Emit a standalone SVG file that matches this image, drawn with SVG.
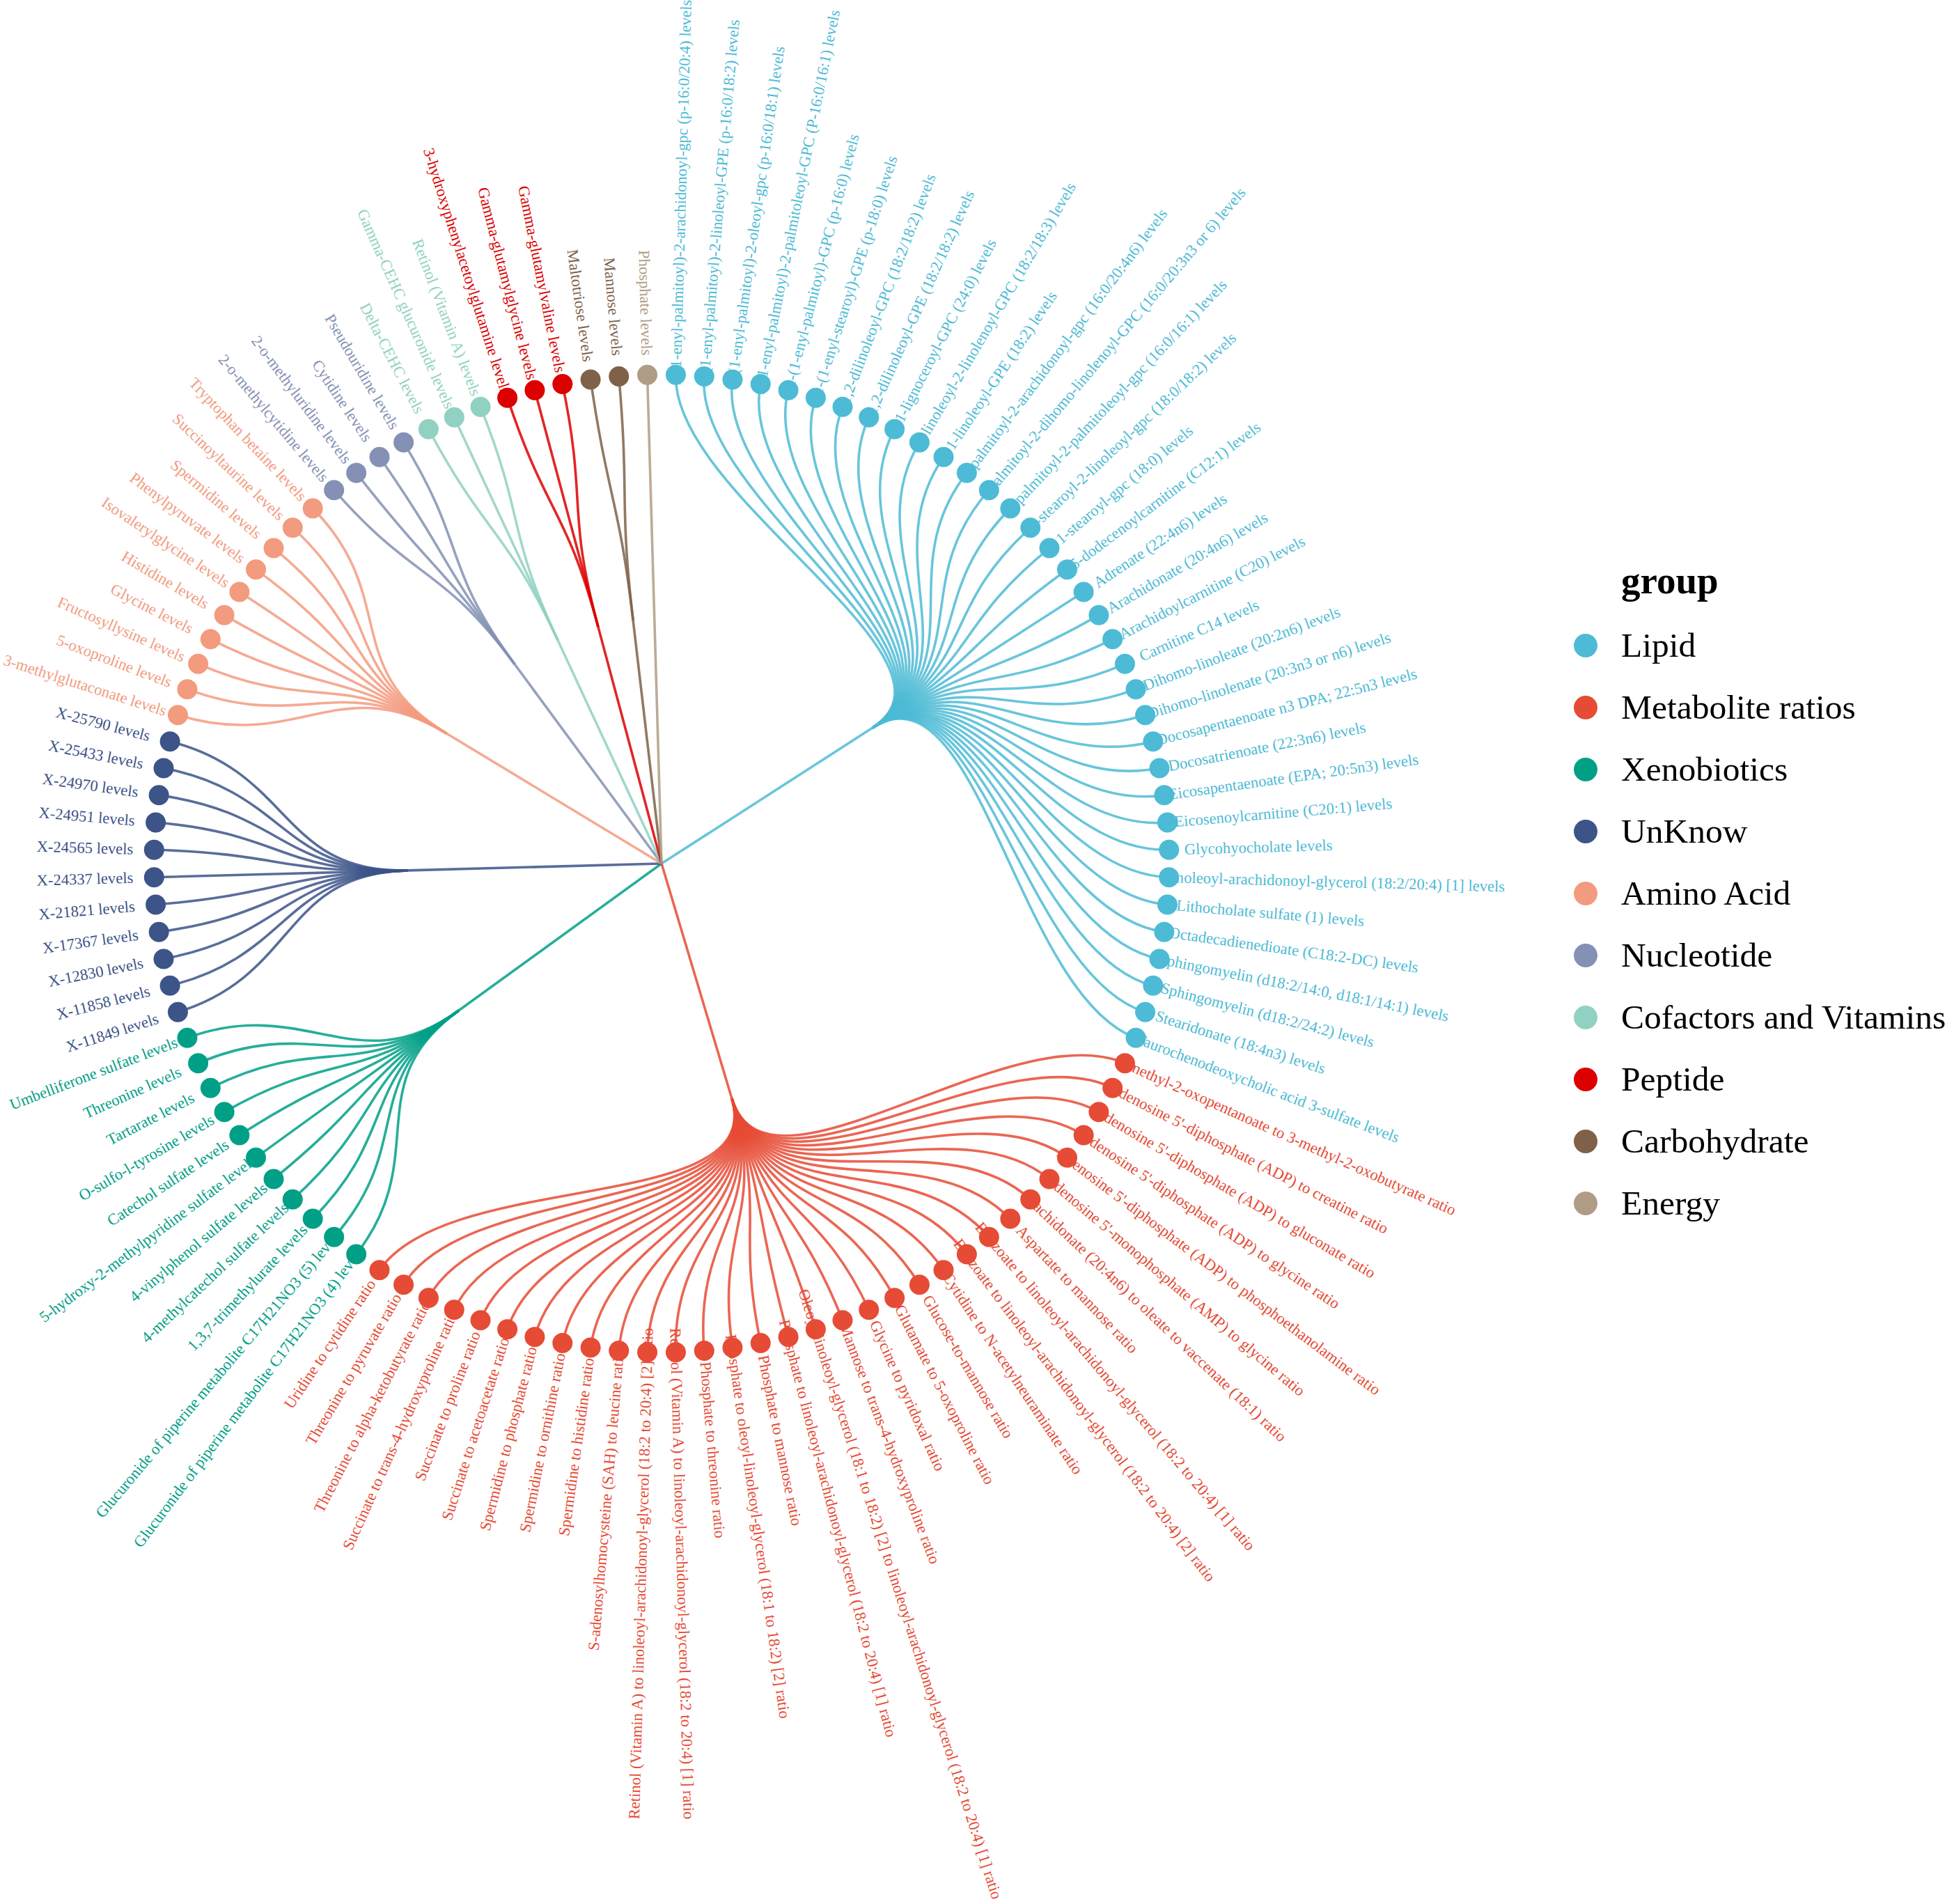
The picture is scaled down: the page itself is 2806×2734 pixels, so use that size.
<svg xmlns="http://www.w3.org/2000/svg" width="2806" height="2734" viewBox="0 0 2806 2734">
<style>
text{font-family:"Liberation Serif","Times New Roman",serif}
.lb{font-size:22.6px}
.fl{text-anchor:end}
.lip{fill:#4DBBD5;stroke:#4DBBD5}
.met{fill:#E64B35;stroke:#E64B35}
.xen{fill:#00A087;stroke:#00A087}
.unk{fill:#3C5488;stroke:#3C5488}
.ami{fill:#F39B7F;stroke:#F39B7F}
.nuc{fill:#8491B4;stroke:#8491B4}
.cof{fill:#91D1C2;stroke:#91D1C2}
.pep{fill:#DC0000;stroke:#DC0000}
.car{fill:#7E6148;stroke:#7E6148}
.ene{fill:#B09C85;stroke:#B09C85}
#connectors path{fill:none;stroke-width:3.6;stroke-opacity:0.85}
.leaf text{stroke:none}
.leaf circle{stroke:none}
.lg{font-size:49.5px;fill:#000}
.lt{font-size:55px;font-weight:bold;fill:#000}
</style>
<rect width="2806" height="2734" fill="#fff"/>
<g id="connectors">
<g class="lip">
<path d="M950 1240L1253.07 1044.99"/>
<path d="M1253.07 1044.99C1404.61 947.49 965.34 713.71 970.45 538.27"/>
<path d="M1253.07 1044.99C1404.61 947.49 995.95 715.36 1011.27 540.49"/>
<path d="M1253.07 1044.99C1404.61 947.49 1026.43 718.67 1051.91 544.89"/>
<path d="M1253.07 1044.99C1404.61 947.49 1056.67 723.61 1092.22 551.49"/>
<path d="M1253.07 1044.99C1404.61 947.49 1086.57 730.19 1132.09 560.25"/>
<path d="M1253.07 1044.99C1404.61 947.49 1116.04 738.36 1171.38 571.15"/>
<path d="M1253.07 1044.99C1404.61 947.49 1144.98 748.12 1209.98 584.16"/>
<path d="M1253.07 1044.99C1404.61 947.49 1173.31 759.42 1247.75 599.23"/>
<path d="M1253.07 1044.99C1404.61 947.49 1200.95 772.23 1284.60 616.31"/>
<path d="M1253.07 1044.99C1404.61 947.49 1227.79 786.52 1320.39 635.36"/>
<path d="M1253.07 1044.99C1404.61 947.49 1253.76 802.23 1355.01 656.31"/>
<path d="M1253.07 1044.99C1404.61 947.49 1278.77 819.32 1388.36 679.09"/>
<path d="M1253.07 1044.99C1404.61 947.49 1302.75 837.73 1420.33 703.64"/>
<path d="M1253.07 1044.99C1404.61 947.49 1325.62 857.41 1450.82 729.88"/>
<path d="M1253.07 1044.99C1404.61 947.49 1347.30 878.29 1479.74 757.73"/>
<path d="M1253.07 1044.99C1404.61 947.49 1367.74 900.32 1506.99 787.09"/>
<path d="M1253.07 1044.99C1404.61 947.49 1386.86 923.40 1532.48 817.87"/>
<path d="M1253.07 1044.99C1404.61 947.49 1404.61 947.49 1556.14 849.99"/>
<path d="M1253.07 1044.99C1404.61 947.49 1420.92 972.50 1577.89 883.33"/>
<path d="M1253.07 1044.99C1404.61 947.49 1435.76 998.35 1597.68 917.80"/>
<path d="M1253.07 1044.99C1404.61 947.49 1449.06 1024.96 1615.42 953.28"/>
<path d="M1253.07 1044.99C1404.61 947.49 1460.80 1052.24 1631.07 989.65"/>
<path d="M1253.07 1044.99C1404.61 947.49 1470.93 1080.11 1644.58 1026.82"/>
<path d="M1253.07 1044.99C1404.61 947.49 1479.42 1108.49 1655.89 1064.65"/>
<path d="M1253.07 1044.99C1404.61 947.49 1486.25 1137.29 1665.00 1103.05"/>
<path d="M1253.07 1044.99C1404.61 947.49 1491.38 1166.40 1671.84 1141.87"/>
<path d="M1253.07 1044.99C1404.61 947.49 1494.81 1195.75 1676.42 1181.00"/>
<path d="M1253.07 1044.99C1404.61 947.49 1496.54 1225.23 1678.72 1220.31"/>
<path d="M1253.07 1044.99C1404.61 947.49 1496.54 1254.77 1678.72 1259.69"/>
<path d="M1253.07 1044.99C1404.61 947.49 1494.81 1284.25 1676.42 1299.00"/>
<path d="M1253.07 1044.99C1404.61 947.49 1491.38 1313.60 1671.84 1338.13"/>
<path d="M1253.07 1044.99C1404.61 947.49 1486.25 1342.71 1665.00 1376.95"/>
<path d="M1253.07 1044.99C1404.61 947.49 1479.42 1371.51 1655.89 1415.35"/>
<path d="M1253.07 1044.99C1404.61 947.49 1470.93 1399.89 1644.58 1453.18"/>
<path d="M1253.07 1044.99C1404.61 947.49 1460.80 1427.76 1631.07 1490.35"/>
</g>
<g class="met">
<path d="M950 1240L1050.91 1577.28"/>
<path d="M1050.91 1577.28C1101.36 1745.92 1449.06 1455.04 1615.42 1526.72"/>
<path d="M1050.91 1577.28C1101.36 1745.92 1435.76 1481.65 1597.68 1562.20"/>
<path d="M1050.91 1577.28C1101.36 1745.92 1420.92 1507.50 1577.89 1596.67"/>
<path d="M1050.91 1577.28C1101.36 1745.92 1404.61 1532.51 1556.14 1630.01"/>
<path d="M1050.91 1577.28C1101.36 1745.92 1386.86 1556.60 1532.48 1662.13"/>
<path d="M1050.91 1577.28C1101.36 1745.92 1367.74 1579.68 1506.99 1692.91"/>
<path d="M1050.91 1577.28C1101.36 1745.92 1347.30 1601.71 1479.74 1722.27"/>
<path d="M1050.91 1577.28C1101.36 1745.92 1325.62 1622.59 1450.82 1750.12"/>
<path d="M1050.91 1577.28C1101.36 1745.92 1302.75 1642.27 1420.33 1776.36"/>
<path d="M1050.91 1577.28C1101.36 1745.92 1278.77 1660.68 1388.36 1800.91"/>
<path d="M1050.91 1577.28C1101.36 1745.92 1253.76 1677.77 1355.01 1823.69"/>
<path d="M1050.91 1577.28C1101.36 1745.92 1227.79 1693.48 1320.39 1844.64"/>
<path d="M1050.91 1577.28C1101.36 1745.92 1200.95 1707.77 1284.60 1863.69"/>
<path d="M1050.91 1577.28C1101.36 1745.92 1173.31 1720.58 1247.75 1880.77"/>
<path d="M1050.91 1577.28C1101.36 1745.92 1144.98 1731.88 1209.98 1895.84"/>
<path d="M1050.91 1577.28C1101.36 1745.92 1116.04 1741.64 1171.38 1908.85"/>
<path d="M1050.91 1577.28C1101.36 1745.92 1086.57 1749.81 1132.09 1919.75"/>
<path d="M1050.91 1577.28C1101.36 1745.92 1056.67 1756.39 1092.22 1928.51"/>
<path d="M1050.91 1577.28C1101.36 1745.92 1026.43 1761.33 1051.91 1935.11"/>
<path d="M1050.91 1577.28C1101.36 1745.92 995.95 1764.64 1011.27 1939.51"/>
<path d="M1050.91 1577.28C1101.36 1745.92 965.34 1766.29 970.45 1941.73"/>
<path d="M1050.91 1577.28C1101.36 1745.92 934.66 1766.29 929.55 1941.73"/>
<path d="M1050.91 1577.28C1101.36 1745.92 904.05 1764.64 888.73 1939.51"/>
<path d="M1050.91 1577.28C1101.36 1745.92 873.57 1761.33 848.09 1935.11"/>
<path d="M1050.91 1577.28C1101.36 1745.92 843.33 1756.39 807.78 1928.51"/>
<path d="M1050.91 1577.28C1101.36 1745.92 813.43 1749.81 767.91 1919.75"/>
<path d="M1050.91 1577.28C1101.36 1745.92 783.96 1741.64 728.62 1908.85"/>
<path d="M1050.91 1577.28C1101.36 1745.92 755.02 1731.88 690.02 1895.84"/>
<path d="M1050.91 1577.28C1101.36 1745.92 726.69 1720.58 652.25 1880.77"/>
<path d="M1050.91 1577.28C1101.36 1745.92 699.05 1707.77 615.40 1863.69"/>
<path d="M1050.91 1577.28C1101.36 1745.92 672.21 1693.48 579.61 1844.64"/>
<path d="M1050.91 1577.28C1101.36 1745.92 646.24 1677.77 544.99 1823.69"/>
</g>
<g class="xen">
<path d="M950 1240L658.76 1451.06"/>
<path d="M658.76 1451.06C513.14 1556.60 621.23 1660.68 511.64 1800.91"/>
<path d="M658.76 1451.06C513.14 1556.60 597.25 1642.27 479.67 1776.36"/>
<path d="M658.76 1451.06C513.14 1556.60 574.38 1622.59 449.18 1750.12"/>
<path d="M658.76 1451.06C513.14 1556.60 552.70 1601.71 420.26 1722.27"/>
<path d="M658.76 1451.06C513.14 1556.60 532.26 1579.68 393.01 1692.91"/>
<path d="M658.76 1451.06C513.14 1556.60 513.14 1556.60 367.52 1662.13"/>
<path d="M658.76 1451.06C513.14 1556.60 495.39 1532.51 343.86 1630.01"/>
<path d="M658.76 1451.06C513.14 1556.60 479.08 1507.50 322.11 1596.67"/>
<path d="M658.76 1451.06C513.14 1556.60 464.24 1481.65 302.32 1562.20"/>
<path d="M658.76 1451.06C513.14 1556.60 450.94 1455.04 284.58 1526.72"/>
<path d="M658.76 1451.06C513.14 1556.60 439.20 1427.76 268.93 1490.35"/>
</g>
<g class="unk">
<path d="M950 1240L585.64 1249.85"/>
<path d="M585.64 1249.85C403.46 1254.77 429.07 1399.89 255.42 1453.18"/>
<path d="M585.64 1249.85C403.46 1254.77 420.58 1371.51 244.11 1415.35"/>
<path d="M585.64 1249.85C403.46 1254.77 413.75 1342.71 235.00 1376.95"/>
<path d="M585.64 1249.85C403.46 1254.77 408.62 1313.60 228.16 1338.13"/>
<path d="M585.64 1249.85C403.46 1254.77 405.19 1284.25 223.58 1299.00"/>
<path d="M585.64 1249.85C403.46 1254.77 403.46 1254.77 221.28 1259.69"/>
<path d="M585.64 1249.85C403.46 1254.77 403.46 1225.23 221.28 1220.31"/>
<path d="M585.64 1249.85C403.46 1254.77 405.19 1195.75 223.58 1181.00"/>
<path d="M585.64 1249.85C403.46 1254.77 408.62 1166.40 228.16 1141.87"/>
<path d="M585.64 1249.85C403.46 1254.77 413.75 1137.29 235.00 1103.05"/>
<path d="M585.64 1249.85C403.46 1254.77 420.58 1108.49 244.11 1064.65"/>
</g>
<g class="ami">
<path d="M950 1240L641.37 1053.25"/>
<path d="M641.37 1053.25C487.06 959.88 429.07 1080.11 255.42 1026.82"/>
<path d="M641.37 1053.25C487.06 959.88 439.20 1052.24 268.93 989.65"/>
<path d="M641.37 1053.25C487.06 959.88 450.94 1024.96 284.58 953.28"/>
<path d="M641.37 1053.25C487.06 959.88 464.24 998.35 302.32 917.80"/>
<path d="M641.37 1053.25C487.06 959.88 479.08 972.50 322.11 883.33"/>
<path d="M641.37 1053.25C487.06 959.88 495.39 947.49 343.86 849.99"/>
<path d="M641.37 1053.25C487.06 959.88 513.14 923.40 367.52 817.87"/>
<path d="M641.37 1053.25C487.06 959.88 532.26 900.32 393.01 787.09"/>
<path d="M641.37 1053.25C487.06 959.88 552.70 878.29 420.26 757.73"/>
<path d="M641.37 1053.25C487.06 959.88 574.38 857.41 449.18 729.88"/>
</g>
<g class="nuc">
<path d="M950 1240L739.07 953.74"/>
<path d="M739.07 953.74C633.61 810.61 597.25 837.73 479.67 703.64"/>
<path d="M739.07 953.74C633.61 810.61 621.23 819.32 511.64 679.09"/>
<path d="M739.07 953.74C633.61 810.61 646.24 802.23 544.99 656.31"/>
<path d="M739.07 953.74C633.61 810.61 672.21 786.52 579.61 635.36"/>
</g>
<g class="cof">
<path d="M950 1240L801.12 919.61"/>
<path d="M801.12 919.61C726.69 759.42 699.05 772.23 615.40 616.31"/>
<path d="M801.12 919.61C726.69 759.42 726.69 759.42 652.25 599.23"/>
<path d="M801.12 919.61C726.69 759.42 755.02 748.12 690.02 584.16"/>
</g>
<g class="pep">
<path d="M950 1240L858.96 900.13"/>
<path d="M858.96 900.13C813.43 730.19 783.96 738.36 728.62 571.15"/>
<path d="M858.96 900.13C813.43 730.19 813.43 730.19 767.91 560.25"/>
<path d="M858.96 900.13C813.43 730.19 843.33 723.61 807.78 551.49"/>
</g>
<g class="car">
<path d="M950 1240L909.19 891.21"/>
<path d="M909.19 891.21C888.78 716.81 873.57 718.67 848.09 544.89"/>
<path d="M909.19 891.21C888.78 716.81 904.05 715.36 888.73 540.49"/>
</g>
<g class="ene">
<path d="M950 1240L939.78 889.14"/>
<path d="M939.78 889.14C934.66 713.71 934.66 713.71 929.55 538.27"/>
</g>
</g>
<g id="nodes" class="lb">
<g id="leaf-1" class="leaf lip"><text transform="translate(970.45 538.27) rotate(-88.39)" x="-16" dy=".32em">1-(1-enyl-palmitoyl)-2-arachidonoyl-gpc (p-16:0/20:4) levels</text><circle cx="970.45" cy="538.27" r="14.5"/></g>
<g id="leaf-2" class="leaf lip"><text transform="translate(1011.27 540.49) rotate(-85.18)" x="-13" dy=".32em">1-(1-enyl-palmitoyl)-2-linoleoyl-GPE (p-16:0/18:2) levels</text><circle cx="1011.27" cy="540.49" r="14.5"/></g>
<g id="leaf-3" class="leaf lip"><text transform="translate(1051.91 544.89) rotate(-81.96)" x="-10" dy=".32em">1-(1-enyl-palmitoyl)-2-oleoyl-gpc (p-16:0/18:1) levels</text><circle cx="1051.91" cy="544.89" r="14.5"/></g>
<g id="leaf-4" class="leaf lip"><text transform="translate(1092.22 551.49) rotate(-78.75)" x="-16" dy=".32em">1-(1-enyl-palmitoyl)-2-palmitoleoyl-GPC (P-16:0/16:1) levels</text><circle cx="1092.22" cy="551.49" r="14.5"/></g>
<g id="leaf-5" class="leaf lip"><text transform="translate(1132.09 560.25) rotate(-75.54)" x="4" dy=".32em">1-(1-enyl-palmitoyl)-GPC (p-16:0) levels</text><circle cx="1132.09" cy="560.25" r="14.5"/></g>
<g id="leaf-6" class="leaf lip"><text transform="translate(1171.38 571.15) rotate(-72.32)" x="5" dy=".32em">1-(1-enyl-stearoyl)-GPE (p-18:0) levels</text><circle cx="1171.38" cy="571.15" r="14.5"/></g>
<g id="leaf-7" class="leaf lip"><text transform="translate(1209.98 584.16) rotate(-69.11)" x="6" dy=".32em">1,2-dilinoleoyl-GPC (18:2/18:2) levels</text><circle cx="1209.98" cy="584.16" r="14.5"/></g>
<g id="leaf-8" class="leaf lip"><text transform="translate(1247.75 599.23) rotate(-65.89)" x="6" dy=".32em">1,2-dilinoleoyl-GPE (18:2/18:2) levels</text><circle cx="1247.75" cy="599.23" r="14.5"/></g>
<g id="leaf-9" class="leaf lip"><text transform="translate(1284.60 616.31) rotate(-62.68)" x="13" dy=".32em">1-lignoceroyl-GPC (24:0) levels</text><circle cx="1284.60" cy="616.31" r="14.5"/></g>
<g id="leaf-10" class="leaf lip"><text transform="translate(1320.39 635.36) rotate(-59.46)" x="-3" dy=".32em">1-linoleoyl-2-linolenoyl-GPC (18:2/18:3) levels</text><circle cx="1320.39" cy="635.36" r="14.5"/></g>
<g id="leaf-11" class="leaf lip"><text transform="translate(1355.01 656.31) rotate(-56.25)" x="15" dy=".32em">1-linoleoyl-GPE (18:2) levels</text><circle cx="1355.01" cy="656.31" r="14.5"/></g>
<g id="leaf-12" class="leaf lip"><text transform="translate(1388.36 679.09) rotate(-53.04)" x="-7" dy=".32em">1-palmitoyl-2-arachidonoyl-gpc (16:0/20:4n6) levels</text><circle cx="1388.36" cy="679.09" r="14.5"/></g>
<g id="leaf-13" class="leaf lip"><text transform="translate(1420.33 703.64) rotate(-49.82)" x="-17" dy=".32em">1-palmitoyl-2-dihomo-linolenoyl-GPC (16:0/20:3n3 or 6) levels</text><circle cx="1420.33" cy="703.64" r="14.5"/></g>
<g id="leaf-14" class="leaf lip"><text transform="translate(1450.82 729.88) rotate(-46.61)" x="-5" dy=".32em">1-palmitoyl-2-palmitoleoyl-gpc (16:0/16:1) levels</text><circle cx="1450.82" cy="729.88" r="14.5"/></g>
<g id="leaf-15" class="leaf lip"><text transform="translate(1479.74 757.73) rotate(-43.39)" x="-1" dy=".32em">1-stearoyl-2-linoleoyl-gpc (18:0/18:2) levels</text><circle cx="1479.74" cy="757.73" r="14.5"/></g>
<g id="leaf-16" class="leaf lip"><text transform="translate(1506.99 787.09) rotate(-40.18)" x="16" dy=".32em">1-stearoyl-gpc (18:0) levels</text><circle cx="1506.99" cy="787.09" r="14.5"/></g>
<g id="leaf-17" class="leaf lip"><text transform="translate(1532.48 817.87) rotate(-36.96)" x="8" dy=".32em">5-dodecenoylcarnitine (C12:1) levels</text><circle cx="1532.48" cy="817.87" r="14.5"/></g>
<g id="leaf-18" class="leaf lip"><text transform="translate(1556.14 849.99) rotate(-33.75)" x="20" dy=".32em">Adrenate (22:4n6) levels</text><circle cx="1556.14" cy="849.99" r="14.5"/></g>
<g id="leaf-19" class="leaf lip"><text transform="translate(1577.89 883.33) rotate(-30.54)" x="16" dy=".32em">Arachidonate (20:4n6) levels</text><circle cx="1577.89" cy="883.33" r="14.5"/></g>
<g id="leaf-20" class="leaf lip"><text transform="translate(1597.68 917.80) rotate(-27.32)" x="12" dy=".32em">Arachidoylcarnitine (C20) levels</text><circle cx="1597.68" cy="917.80" r="14.5"/></g>
<g id="leaf-21" class="leaf lip"><text transform="translate(1615.42 953.28) rotate(-24.11)" x="24" dy=".32em">Carnitine C14 levels</text><circle cx="1615.42" cy="953.28" r="14.5"/></g>
<g id="leaf-22" class="leaf lip"><text transform="translate(1631.07 989.65) rotate(-20.89)" x="12" dy=".32em">Dihomo-linoleate (20:2n6) levels</text><circle cx="1631.07" cy="989.65" r="14.5"/></g>
<g id="leaf-23" class="leaf lip"><text transform="translate(1644.58 1026.82) rotate(-17.68)" x="4" dy=".32em">Dihomo-linolenate (20:3n3 or n6) levels</text><circle cx="1644.58" cy="1026.82" r="14.5"/></g>
<g id="leaf-24" class="leaf lip"><text transform="translate(1655.89 1064.65) rotate(-14.46)" x="5" dy=".32em">Docosapentaenoate n3 DPA; 22:5n3 levels</text><circle cx="1655.89" cy="1064.65" r="14.5"/></g>
<g id="leaf-25" class="leaf lip"><text transform="translate(1665.00 1103.05) rotate(-11.25)" x="13" dy=".32em">Docosatrienoate (22:3n6) levels</text><circle cx="1665.00" cy="1103.05" r="14.5"/></g>
<g id="leaf-26" class="leaf lip"><text transform="translate(1671.84 1141.87) rotate(-8.04)" x="6" dy=".32em">Eicosapentaenoate (EPA; 20:5n3) levels</text><circle cx="1671.84" cy="1141.87" r="14.5"/></g>
<g id="leaf-27" class="leaf lip"><text transform="translate(1676.42 1181.00) rotate(-4.82)" x="10" dy=".32em">Eicosenoylcarnitine (C20:1) levels</text><circle cx="1676.42" cy="1181.00" r="14.5"/></g>
<g id="leaf-28" class="leaf lip"><text transform="translate(1678.72 1220.31) rotate(-1.61)" x="22" dy=".32em">Glycohyocholate levels</text><circle cx="1678.72" cy="1220.31" r="14.5"/></g>
<g id="leaf-29" class="leaf lip"><text transform="translate(1678.72 1259.69) rotate(1.61)" x="-10" dy=".32em">Linoleoyl-arachidonoyl-glycerol (18:2/20:4) [1] levels</text><circle cx="1678.72" cy="1259.69" r="14.5"/></g>
<g id="leaf-30" class="leaf lip"><text transform="translate(1676.42 1299.00) rotate(4.82)" x="13" dy=".32em">Lithocholate sulfate (1) levels</text><circle cx="1676.42" cy="1299.00" r="14.5"/></g>
<g id="leaf-31" class="leaf lip"><text transform="translate(1671.84 1338.13) rotate(8.04)" x="7" dy=".32em">Octadecadienedioate (C18:2-DC) levels</text><circle cx="1671.84" cy="1338.13" r="14.5"/></g>
<g id="leaf-32" class="leaf lip"><text transform="translate(1665.00 1376.95) rotate(11.25)" x="-1" dy=".32em">Sphingomyelin (d18:2/14:0, d18:1/14:1) levels</text><circle cx="1665.00" cy="1376.95" r="14.5"/></g>
<g id="leaf-33" class="leaf lip"><text transform="translate(1655.89 1415.35) rotate(14.46)" x="12" dy=".32em">Sphingomyelin (d18:2/24:2) levels</text><circle cx="1655.89" cy="1415.35" r="14.5"/></g>
<g id="leaf-34" class="leaf lip"><text transform="translate(1644.58 1453.18) rotate(17.68)" x="16" dy=".32em">Stearidonate (18:4n3) levels</text><circle cx="1644.58" cy="1453.18" r="14.5"/></g>
<g id="leaf-35" class="leaf lip"><text transform="translate(1631.07 1490.35) rotate(20.89)" x="1" dy=".32em">Taurochenodeoxycholic acid 3-sulfate levels</text><circle cx="1631.07" cy="1490.35" r="14.5"/></g>
<g id="leaf-36" class="leaf met"><text transform="translate(1615.42 1526.72) rotate(24.11)" x="-12" dy=".32em">3-methyl-2-oxopentanoate to 3-methyl-2-oxobutyrate ratio</text><circle cx="1615.42" cy="1526.72" r="14.5"/></g>
<g id="leaf-37" class="leaf met"><text transform="translate(1597.68 1562.20) rotate(27.32)" x="-4" dy=".32em">Adenosine 5'-diphosphate (ADP) to creatine ratio</text><circle cx="1597.68" cy="1562.20" r="14.5"/></g>
<g id="leaf-38" class="leaf met"><text transform="translate(1577.89 1596.67) rotate(30.54)" x="-5" dy=".32em">Adenosine 5'-diphosphate (ADP) to gluconate ratio</text><circle cx="1577.89" cy="1596.67" r="14.5"/></g>
<g id="leaf-39" class="leaf met"><text transform="translate(1556.14 1630.01) rotate(33.75)" x="-3" dy=".32em">Adenosine 5'-diphosphate (ADP) to glycine ratio</text><circle cx="1556.14" cy="1630.01" r="14.5"/></g>
<g id="leaf-40" class="leaf met"><text transform="translate(1532.48 1662.13) rotate(36.96)" x="-15" dy=".32em">Adenosine 5'-diphosphate (ADP) to phosphoethanolamine ratio</text><circle cx="1532.48" cy="1662.13" r="14.5"/></g>
<g id="leaf-41" class="leaf met"><text transform="translate(1506.99 1692.91) rotate(40.18)" x="-4" dy=".32em">Adenosine 5'-monophosphate (AMP) to glycine ratio</text><circle cx="1506.99" cy="1692.91" r="14.5"/></g>
<g id="leaf-42" class="leaf met"><text transform="translate(1479.74 1722.27) rotate(43.39)" x="-13" dy=".32em">Arachidonate (20:4n6) to oleate to vaccenate (18:1) ratio</text><circle cx="1479.74" cy="1722.27" r="14.5"/></g>
<g id="leaf-43" class="leaf met"><text transform="translate(1450.82 1750.12) rotate(46.61)" x="18" dy=".32em">Aspartate to mannose ratio</text><circle cx="1450.82" cy="1750.12" r="14.5"/></g>
<g id="leaf-44" class="leaf met"><text transform="translate(1420.33 1776.36) rotate(49.82)" x="-24" dy=".32em">Benzoate to linoleoyl-arachidonoyl-glycerol (18:2 to 20:4) [1] ratio</text><circle cx="1420.33" cy="1776.36" r="14.5"/></g>
<g id="leaf-45" class="leaf met"><text transform="translate(1388.36 1800.91) rotate(53.04)" x="-24" dy=".32em">Benzoate to linoleoyl-arachidonoyl-glycerol (18:2 to 20:4) [2] ratio</text><circle cx="1388.36" cy="1800.91" r="14.5"/></g>
<g id="leaf-46" class="leaf met"><text transform="translate(1355.01 1823.69) rotate(56.25)" x="7" dy=".32em">Cytidine to N-acetylneuraminate ratio</text><circle cx="1355.01" cy="1823.69" r="14.5"/></g>
<g id="leaf-47" class="leaf met"><text transform="translate(1320.39 1844.64) rotate(59.46)" x="20" dy=".32em">Glucose-to-mannose ratio</text><circle cx="1320.39" cy="1844.64" r="14.5"/></g>
<g id="leaf-48" class="leaf met"><text transform="translate(1284.60 1863.69) rotate(62.68)" x="13" dy=".32em">Glutamate to 5-oxoproline ratio</text><circle cx="1284.60" cy="1863.69" r="14.5"/></g>
<g id="leaf-49" class="leaf met"><text transform="translate(1247.75 1880.77) rotate(65.89)" x="18" dy=".32em">Glycine to pyridoxal ratio</text><circle cx="1247.75" cy="1880.77" r="14.5"/></g>
<g id="leaf-50" class="leaf met"><text transform="translate(1209.98 1895.84) rotate(69.11)" x="5" dy=".32em">Mannose to trans-4-hydroxyproline ratio</text><circle cx="1209.98" cy="1895.84" r="14.5"/></g>
<g id="leaf-51" class="leaf met"><text transform="translate(1171.38 1908.85) rotate(72.32)" x="-60" dy=".32em">Oleoyl-linoleoyl-glycerol (18:1 to 18:2) [2] to linoleoyl-arachidonoyl-glycerol (18:2 to 20:4) [1] ratio</text><circle cx="1171.38" cy="1908.85" r="14.5"/></g>
<g id="leaf-52" class="leaf met"><text transform="translate(1132.09 1919.75) rotate(75.54)" x="-25" dy=".32em">Phosphate to linoleoyl-arachidonoyl-glycerol (18:2 to 20:4) [1] ratio</text><circle cx="1132.09" cy="1919.75" r="14.5"/></g>
<g id="leaf-53" class="leaf met"><text transform="translate(1092.22 1928.51) rotate(78.75)" x="18" dy=".32em">Phosphate to mannose ratio</text><circle cx="1092.22" cy="1928.51" r="14.5"/></g>
<g id="leaf-54" class="leaf met"><text transform="translate(1051.91 1935.11) rotate(81.96)" x="-19" dy=".32em">Phosphate to oleoyl-linoleoyl-glycerol (18:1 to 18:2) [2] ratio</text><circle cx="1051.91" cy="1935.11" r="14.5"/></g>
<g id="leaf-55" class="leaf met"><text transform="translate(1011.27 1939.51) rotate(85.18)" x="16" dy=".32em">Phosphate to threonine ratio</text><circle cx="1011.27" cy="1939.51" r="14.5"/></g>
<g id="leaf-56" class="leaf met"><text transform="translate(970.45 1941.73) rotate(88.39)" x="-35" dy=".32em">Retinol (Vitamin A) to linoleoyl-arachidonoyl-glycerol (18:2 to 20:4) [1] ratio</text><circle cx="970.45" cy="1941.73" r="14.5"/></g>
<g id="leaf-57" class="leaf met"><text class="fl" transform="translate(929.55 1941.73) rotate(-88.39)" x="35" dy=".32em">Retinol (Vitamin A) to linoleoyl-arachidonoyl-glycerol (18:2 to 20:4) [2] ratio</text><circle cx="929.55" cy="1941.73" r="14.5"/></g>
<g id="leaf-58" class="leaf met"><text class="fl" transform="translate(888.73 1939.51) rotate(-85.18)" x="1" dy=".32em">S-adenosylhomocysteine (SAH) to leucine ratio</text><circle cx="888.73" cy="1939.51" r="14.5"/></g>
<g id="leaf-59" class="leaf met"><text class="fl" transform="translate(848.09 1935.11) rotate(-81.96)" x="-15" dy=".32em">Spermidine to histidine ratio</text><circle cx="848.09" cy="1935.11" r="14.5"/></g>
<g id="leaf-60" class="leaf met"><text class="fl" transform="translate(807.78 1928.51) rotate(-78.75)" x="-15" dy=".32em">Spermidine to ornithine ratio</text><circle cx="807.78" cy="1928.51" r="14.5"/></g>
<g id="leaf-61" class="leaf met"><text class="fl" transform="translate(767.91 1919.75) rotate(-75.54)" x="-15" dy=".32em">Spermidine to phosphate ratio</text><circle cx="767.91" cy="1919.75" r="14.5"/></g>
<g id="leaf-62" class="leaf met"><text class="fl" transform="translate(728.62 1908.85) rotate(-72.32)" x="-13" dy=".32em">Succinate to acetoacetate ratio</text><circle cx="728.62" cy="1908.85" r="14.5"/></g>
<g id="leaf-63" class="leaf met"><text class="fl" transform="translate(690.02 1895.84) rotate(-69.11)" x="-18" dy=".32em">Succinate to proline ratio</text><circle cx="690.02" cy="1895.84" r="14.5"/></g>
<g id="leaf-64" class="leaf met"><text class="fl" transform="translate(652.25 1880.77) rotate(-65.89)" x="-3" dy=".32em">Succinate to trans-4-hydroxyproline ratio</text><circle cx="652.25" cy="1880.77" r="14.5"/></g>
<g id="leaf-65" class="leaf met"><text class="fl" transform="translate(615.40 1863.69) rotate(-62.68)" x="-7" dy=".32em">Threonine to alpha-ketobutyrate ratio</text><circle cx="615.40" cy="1863.69" r="14.5"/></g>
<g id="leaf-66" class="leaf met"><text class="fl" transform="translate(579.61 1844.64) rotate(-59.46)" x="-17" dy=".32em">Threonine to pyruvate ratio</text><circle cx="579.61" cy="1844.64" r="14.5"/></g>
<g id="leaf-67" class="leaf met"><text class="fl" transform="translate(544.99 1823.69) rotate(-56.25)" x="-19" dy=".32em">Uridine to cytidine ratio</text><circle cx="544.99" cy="1823.69" r="14.5"/></g>
<g id="leaf-68" class="leaf xen"><text class="fl" transform="translate(511.64 1800.91) rotate(-53.04)" x="11" dy=".32em">Glucuronide of piperine metabolite C17H21NO3 (4) levels</text><circle cx="511.64" cy="1800.91" r="14.5"/></g>
<g id="leaf-69" class="leaf xen"><text class="fl" transform="translate(479.67 1776.36) rotate(-49.82)" x="11" dy=".32em">Glucuronide of piperine metabolite C17H21NO3 (5) levels</text><circle cx="479.67" cy="1776.36" r="14.5"/></g>
<g id="leaf-70" class="leaf xen"><text class="fl" transform="translate(449.18 1750.12) rotate(-46.61)" x="-17" dy=".32em">1,3,7-trimethylurate levels</text><circle cx="449.18" cy="1750.12" r="14.5"/></g>
<g id="leaf-71" class="leaf xen"><text class="fl" transform="translate(420.26 1722.27) rotate(-43.39)" x="-13" dy=".32em">4-methylcatechol sulfate levels</text><circle cx="420.26" cy="1722.27" r="14.5"/></g>
<g id="leaf-72" class="leaf xen"><text class="fl" transform="translate(393.01 1692.91) rotate(-40.18)" x="-16" dy=".32em">4-vinylphenol sulfate levels</text><circle cx="393.01" cy="1692.91" r="14.5"/></g>
<g id="leaf-73" class="leaf xen"><text class="fl" transform="translate(367.52 1662.13) rotate(-36.96)" x="-3" dy=".32em">5-hydroxy-2-methylpyridine sulfate levels</text><circle cx="367.52" cy="1662.13" r="14.5"/></g>
<g id="leaf-74" class="leaf xen"><text class="fl" transform="translate(343.86 1630.01) rotate(-33.75)" x="-21" dy=".32em">Catechol sulfate levels</text><circle cx="343.86" cy="1630.01" r="14.5"/></g>
<g id="leaf-75" class="leaf xen"><text class="fl" transform="translate(322.11 1596.67) rotate(-30.54)" x="-19" dy=".32em">O-sulfo-l-tyrosine levels</text><circle cx="322.11" cy="1596.67" r="14.5"/></g>
<g id="leaf-76" class="leaf xen"><text class="fl" transform="translate(302.32 1562.20) rotate(-27.32)" x="-28" dy=".32em">Tartarate levels</text><circle cx="302.32" cy="1562.20" r="14.5"/></g>
<g id="leaf-77" class="leaf xen"><text class="fl" transform="translate(284.58 1526.72) rotate(-24.11)" x="-28" dy=".32em">Threonine levels</text><circle cx="284.58" cy="1526.72" r="14.5"/></g>
<g id="leaf-78" class="leaf xen"><text class="fl" transform="translate(268.93 1490.35) rotate(-20.89)" x="-16" dy=".32em">Umbelliferone sulfate levels</text><circle cx="268.93" cy="1490.35" r="14.5"/></g>
<g id="leaf-79" class="leaf unk"><text class="fl" transform="translate(255.42 1453.18) rotate(-17.68)" x="-30" dy=".32em">X-11849 levels</text><circle cx="255.42" cy="1453.18" r="14.5"/></g>
<g id="leaf-80" class="leaf unk"><text class="fl" transform="translate(244.11 1415.35) rotate(-14.46)" x="-30" dy=".32em">X-11858 levels</text><circle cx="244.11" cy="1415.35" r="14.5"/></g>
<g id="leaf-81" class="leaf unk"><text class="fl" transform="translate(235.00 1376.95) rotate(-11.25)" x="-30" dy=".32em">X-12830 levels</text><circle cx="235.00" cy="1376.95" r="14.5"/></g>
<g id="leaf-82" class="leaf unk"><text class="fl" transform="translate(228.16 1338.13) rotate(-8.04)" x="-30" dy=".32em">X-17367 levels</text><circle cx="228.16" cy="1338.13" r="14.5"/></g>
<g id="leaf-83" class="leaf unk"><text class="fl" transform="translate(223.58 1299.00) rotate(-4.82)" x="-30" dy=".32em">X-21821 levels</text><circle cx="223.58" cy="1299.00" r="14.5"/></g>
<g id="leaf-84" class="leaf unk"><text class="fl" transform="translate(221.28 1259.69) rotate(-1.61)" x="-30" dy=".32em">X-24337 levels</text><circle cx="221.28" cy="1259.69" r="14.5"/></g>
<g id="leaf-85" class="leaf unk"><text class="fl" transform="translate(221.28 1220.31) rotate(1.61)" x="-30" dy=".32em">X-24565 levels</text><circle cx="221.28" cy="1220.31" r="14.5"/></g>
<g id="leaf-86" class="leaf unk"><text class="fl" transform="translate(223.58 1181.00) rotate(4.82)" x="-30" dy=".32em">X-24951 levels</text><circle cx="223.58" cy="1181.00" r="14.5"/></g>
<g id="leaf-87" class="leaf unk"><text class="fl" transform="translate(228.16 1141.87) rotate(8.04)" x="-30" dy=".32em">X-24970 levels</text><circle cx="228.16" cy="1141.87" r="14.5"/></g>
<g id="leaf-88" class="leaf unk"><text class="fl" transform="translate(235.00 1103.05) rotate(11.25)" x="-30" dy=".32em">X-25433 levels</text><circle cx="235.00" cy="1103.05" r="14.5"/></g>
<g id="leaf-89" class="leaf unk"><text class="fl" transform="translate(244.11 1064.65) rotate(14.46)" x="-30" dy=".32em">X-25790 levels</text><circle cx="244.11" cy="1064.65" r="14.5"/></g>
<g id="leaf-90" class="leaf ami"><text class="fl" transform="translate(255.42 1026.82) rotate(17.68)" x="-18" dy=".32em">3-methylglutaconate levels</text><circle cx="255.42" cy="1026.82" r="14.5"/></g>
<g id="leaf-91" class="leaf ami"><text class="fl" transform="translate(268.93 989.65) rotate(20.89)" x="-25" dy=".32em">5-oxoproline levels</text><circle cx="268.93" cy="989.65" r="14.5"/></g>
<g id="leaf-92" class="leaf ami"><text class="fl" transform="translate(284.58 953.28) rotate(24.11)" x="-22" dy=".32em">Fructosyllysine levels</text><circle cx="284.58" cy="953.28" r="14.5"/></g>
<g id="leaf-93" class="leaf ami"><text class="fl" transform="translate(302.32 917.80) rotate(27.32)" x="-30" dy=".32em">Glycine levels</text><circle cx="302.32" cy="917.80" r="14.5"/></g>
<g id="leaf-94" class="leaf ami"><text class="fl" transform="translate(322.11 883.33) rotate(30.54)" x="-28" dy=".32em">Histidine levels</text><circle cx="322.11" cy="883.33" r="14.5"/></g>
<g id="leaf-95" class="leaf ami"><text class="fl" transform="translate(343.86 849.99) rotate(33.75)" x="-20" dy=".32em">Isovalerylglycine levels</text><circle cx="343.86" cy="849.99" r="14.5"/></g>
<g id="leaf-96" class="leaf ami"><text class="fl" transform="translate(367.52 817.87) rotate(36.96)" x="-23" dy=".32em">Phenylpyruvate levels</text><circle cx="367.52" cy="817.87" r="14.5"/></g>
<g id="leaf-97" class="leaf ami"><text class="fl" transform="translate(393.01 787.09) rotate(40.18)" x="-27" dy=".32em">Spermidine levels</text><circle cx="393.01" cy="787.09" r="14.5"/></g>
<g id="leaf-98" class="leaf ami"><text class="fl" transform="translate(420.26 757.73) rotate(43.39)" x="-21" dy=".32em">Succinoyltaurine levels</text><circle cx="420.26" cy="757.73" r="14.5"/></g>
<g id="leaf-99" class="leaf ami"><text class="fl" transform="translate(449.18 729.88) rotate(46.61)" x="-19" dy=".32em">Tryptophan betaine levels</text><circle cx="449.18" cy="729.88" r="14.5"/></g>
<g id="leaf-100" class="leaf nuc"><text class="fl" transform="translate(479.67 703.64) rotate(49.82)" x="-19" dy=".32em">2-o-methylcytidine levels</text><circle cx="479.67" cy="703.64" r="14.5"/></g>
<g id="leaf-101" class="leaf nuc"><text class="fl" transform="translate(511.64 679.09) rotate(53.04)" x="-20" dy=".32em">2-o-methyluridine levels</text><circle cx="511.64" cy="679.09" r="14.5"/></g>
<g id="leaf-102" class="leaf nuc"><text class="fl" transform="translate(544.99 656.31) rotate(56.25)" x="-29" dy=".32em">Cytidine levels</text><circle cx="544.99" cy="656.31" r="14.5"/></g>
<g id="leaf-103" class="leaf nuc"><text class="fl" transform="translate(579.61 635.36) rotate(59.46)" x="-24" dy=".32em">Pseudouridine levels</text><circle cx="579.61" cy="635.36" r="14.5"/></g>
<g id="leaf-104" class="leaf cof"><text class="fl" transform="translate(615.40 616.31) rotate(62.68)" x="-27" dy=".32em">Delta-CEHC levels</text><circle cx="615.40" cy="616.31" r="14.5"/></g>
<g id="leaf-105" class="leaf cof"><text class="fl" transform="translate(652.25 599.23) rotate(65.89)" x="-15" dy=".32em">Gamma-CEHC glucuronide levels</text><circle cx="652.25" cy="599.23" r="14.5"/></g>
<g id="leaf-106" class="leaf cof"><text class="fl" transform="translate(690.02 584.16) rotate(69.11)" x="-18" dy=".32em">Retinol (Vitamin A) levels</text><circle cx="690.02" cy="584.16" r="14.5"/></g>
<g id="leaf-107" class="leaf pep"><text class="fl" transform="translate(728.62 571.15) rotate(72.32)" x="-6" dy=".32em">3-hydroxyphenylacetoylglutamine levels</text><circle cx="728.62" cy="571.15" r="14.5"/></g>
<g id="leaf-108" class="leaf pep"><text class="fl" transform="translate(767.91 560.25) rotate(75.54)" x="-16" dy=".32em">Gamma-glutamylglycine levels</text><circle cx="767.91" cy="560.25" r="14.5"/></g>
<g id="leaf-109" class="leaf pep"><text class="fl" transform="translate(807.78 551.49) rotate(78.75)" x="-17" dy=".32em">Gamma-glutamylvaline levels</text><circle cx="807.78" cy="551.49" r="14.5"/></g>
<g id="leaf-110" class="leaf car"><text class="fl" transform="translate(848.09 544.89) rotate(81.96)" x="-26" dy=".32em">Maltotriose levels</text><circle cx="848.09" cy="544.89" r="14.5"/></g>
<g id="leaf-111" class="leaf car"><text class="fl" transform="translate(888.73 540.49) rotate(85.18)" x="-30" dy=".32em">Mannose levels</text><circle cx="888.73" cy="540.49" r="14.5"/></g>
<g id="leaf-112" class="leaf ene"><text class="fl" transform="translate(929.55 538.27) rotate(88.39)" x="-28" dy=".32em">Phosphate levels</text><circle cx="929.55" cy="538.27" r="14.5"/></g>
</g>
<g id="legend">
<text class="lt" x="2328" y="852">group</text>
<g class="leaf lip"><circle cx="2277" cy="927" r="17"/></g><text class="lg" x="2328" y="943">Lipid</text>
<g class="leaf met"><circle cx="2277" cy="1016" r="17"/></g><text class="lg" x="2328" y="1032">Metabolite ratios</text>
<g class="leaf xen"><circle cx="2277" cy="1105" r="17"/></g><text class="lg" x="2328" y="1121">Xenobiotics</text>
<g class="leaf unk"><circle cx="2277" cy="1194" r="17"/></g><text class="lg" x="2328" y="1210">UnKnow</text>
<g class="leaf ami"><circle cx="2277" cy="1283" r="17"/></g><text class="lg" x="2328" y="1299">Amino Acid</text>
<g class="leaf nuc"><circle cx="2277" cy="1372" r="17"/></g><text class="lg" x="2328" y="1388">Nucleotide</text>
<g class="leaf cof"><circle cx="2277" cy="1461" r="17"/></g><text class="lg" x="2328" y="1477">Cofactors and Vitamins</text>
<g class="leaf pep"><circle cx="2277" cy="1550" r="17"/></g><text class="lg" x="2328" y="1566">Peptide</text>
<g class="leaf car"><circle cx="2277" cy="1639" r="17"/></g><text class="lg" x="2328" y="1655">Carbohydrate</text>
<g class="leaf ene"><circle cx="2277" cy="1728" r="17"/></g><text class="lg" x="2328" y="1744">Energy</text>
</g>
</svg>
